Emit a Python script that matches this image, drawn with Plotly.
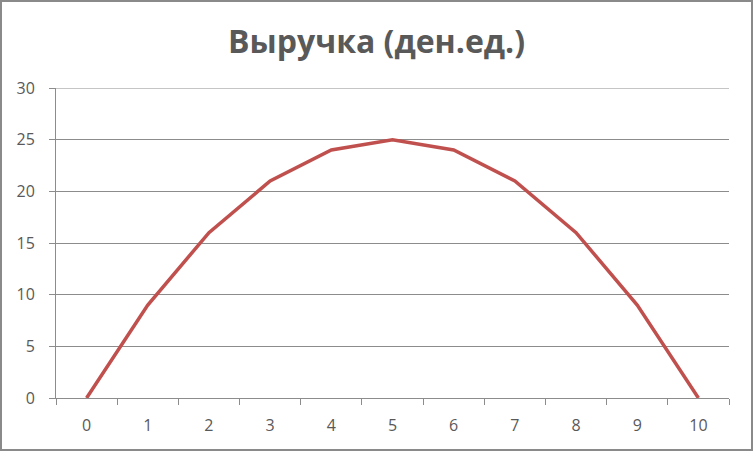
import plotly.graph_objects as go

categories = ["0", "1", "2", "3", "4", "5", "6", "7", "8", "9", "10"]
revenue = [0, 9, 16, 21, 24, 25, 24, 21, 16, 9, 0]
y_ticks = [0, 5, 10, 15, 20, 25, 30]
title_text = "Выручка (ден.ед.)"

W, H = 753, 451
L, R, T, B = 56, 24, 88, 53
pw, ph = W - L - R, H - T - B

fig = go.Figure()
fig.add_trace(go.Scatter(x=categories, y=revenue, mode="lines",
                         line=dict(color="#C0504D", width=3.5), hoverinfo="x+y"))

grid = "#8C8C8C"
fig.update_layout(
    width=W, height=H,
    margin=dict(l=L, r=R, t=T, b=B, autoexpand=False),
    paper_bgcolor="white", plot_bgcolor="white",
    showlegend=False,
    font=dict(family="Open Sans, Noto Sans, sans-serif", color="#595959", size=16),
    title=dict(text="<b>" + title_text + "</b>", x=0.5, xanchor="center",
               y=1 - 42 / H, yanchor="middle",
               font=dict(family="Open Sans, Noto Sans, sans-serif", size=32, color="#595959")),
    xaxis=dict(type="category", range=[-0.5, 10.5], tickson="boundaries",
               ticks="outside", ticklen=6, tickcolor=grid, showgrid=False,
               showline=True, linecolor=grid, linewidth=1, zeroline=False,
               tickfont=dict(size=16), ticklabelstandoff=13, automargin=False),
    yaxis=dict(range=[0, 30], tickvals=y_ticks, ticks="outside", ticklen=6,
               tickcolor=grid, showgrid=True, gridcolor=grid, gridwidth=1,
               showline=True, linecolor=grid, linewidth=1, zeroline=False,
               tickfont=dict(size=16), ticklabelstandoff=11, automargin=False),
    shapes=[
        dict(type="rect", xref="paper", yref="paper",
             x0=(1 - L) / pw, x1=(W - 1 - L) / pw,
             y0=-(B - 1) / ph, y1=1 + (T - 1) / ph,
             line=dict(color="#8A8A8A", width=2), layer="below"),
        dict(type="line", xref="paper", yref="y", x0=0, x1=1, y0=y_ticks[-1], y1=y_ticks[-1],
             line=dict(color=grid, width=1), layer="below"),
    ],
)

fig.write_html("out.html", config={"displayModeBar": False},
               post_script="document.body.style.margin='0';document.body.style.padding='0';")
